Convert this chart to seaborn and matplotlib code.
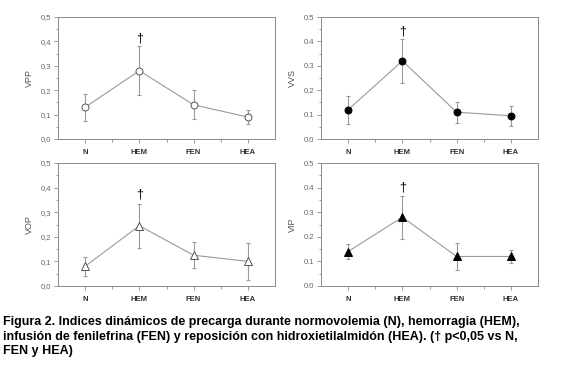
import numpy as np
import matplotlib
matplotlib.use("Agg")
import matplotlib.pyplot as plt
import seaborn as sns

categories = ["N", "HEM", "FEN", "HEA"]

vpp_mean = [0.13, 0.28, 0.14, 0.09]
vpp_err = [0.055, 0.10, 0.06, 0.03]
vvs_mean = [0.12, 0.32, 0.11, 0.095]
vvs_err = [0.057, 0.09, 0.043, 0.04]
vop_mean = [0.08, 0.245, 0.125, 0.10]
vop_err = [0.038, 0.09, 0.053, 0.075]
vip_mean = [0.14, 0.28, 0.12, 0.12]
vip_err = [0.03, 0.087, 0.054, 0.027]

dagger_y = [0.41, 0.44, 0.37, 0.40]

caption = ("Figura 2. Indices dinámicos de precarga durante normovolemia (N), hemorragia (HEM),\n"
           "infusión de fenilefrina (FEN) y reposición con hidroxietilalmidón (HEA). († p<0,05 vs N,\n"
           "FEN y HEA)")

sns.set_style("white")
plt.rcParams["font.family"] = ["Liberation Sans", "DejaVu Sans"]

W, H = 566, 372
fig = plt.figure(figsize=(W / 100, H / 100), dpi=100)

GRAY = "#8a8a8a"
LINE = "#9a9a9a"


def add_panel(rect_px, mean, err, ylabel, marker, filled, dagger, comma):
    x0, y0, x1, y1 = rect_px
    ax = fig.add_axes([x0 / W, 1 - y1 / H, (x1 - x0) / W, (y1 - y0) / H])
    xpos = np.arange(len(categories))
    ax.errorbar(xpos, mean, yerr=err, fmt="none", ecolor=LINE, elinewidth=0.8,
                capsize=1.5, capthick=0.8, zorder=1)
    sns.lineplot(x=xpos, y=mean, ax=ax, color=LINE, linewidth=0.8, sort=False,
                 marker=marker, markersize=5 if marker == "o" else 6,
                 markerfacecolor="black" if filled else "white",
                 markeredgecolor="black" if filled else "#555555",
                 markeredgewidth=0.7, zorder=2)
    ax.text(1, dagger, "†", ha="center", va="center", fontsize=9, color="black")
    ax.set_xlim(-0.5, 3.5)
    ax.set_ylim(0, 0.5)
    ax.set_xticks(xpos)
    ax.set_xticklabels(categories, fontsize=5.5, fontweight="bold", color="#333333")
    ax.set_xticks([0.5, 1.5, 2.5], minor=True)
    yt = np.arange(0, 0.51, 0.1)
    ax.set_yticks(yt)
    labs = [f"{v:.1f}" for v in yt]
    if comma:
        labs = [s.replace(".", ",") for s in labs]
    ax.set_yticklabels(labs, fontsize=5.5, color="#666666")
    ax.set_yticks(np.arange(0.05, 0.5, 0.1), minor=True)
    ax.tick_params(axis="both", which="both", direction="out", color=GRAY,
                   width=0.6, bottom=True, left=True)
    ax.tick_params(axis="both", which="major", length=3)
    ax.tick_params(axis="both", which="minor", length=1.8)
    ax.tick_params(axis="x", pad=4)
    ax.tick_params(axis="y", pad=2)
    for s in ax.spines.values():
        s.set_color(GRAY)
        s.set_linewidth(0.7)
    ax.set_ylabel(ylabel, fontsize=6.5, color="#555555", labelpad=5)
    ax.set_xlabel("")
    return ax


add_panel((58, 17, 275, 139), vpp_mean, vpp_err, "VPP", "o", False, dagger_y[0], True)
add_panel((321, 17, 538, 139), vvs_mean, vvs_err, "VVS", "o", True, dagger_y[1], False)
add_panel((58, 163, 275, 286), vop_mean, vop_err, "VOP", "^", False, dagger_y[2], True)
add_panel((321, 163, 538, 286), vip_mean, vip_err, "VIP", "^", True, dagger_y[3], False)

fig.text(3 / W, 1 - 316 / H, caption, fontsize=9, fontweight="bold", color="black",
         va="top", ha="left", linespacing=1.3)

fig.savefig("out.png", dpi=100, facecolor="white")
